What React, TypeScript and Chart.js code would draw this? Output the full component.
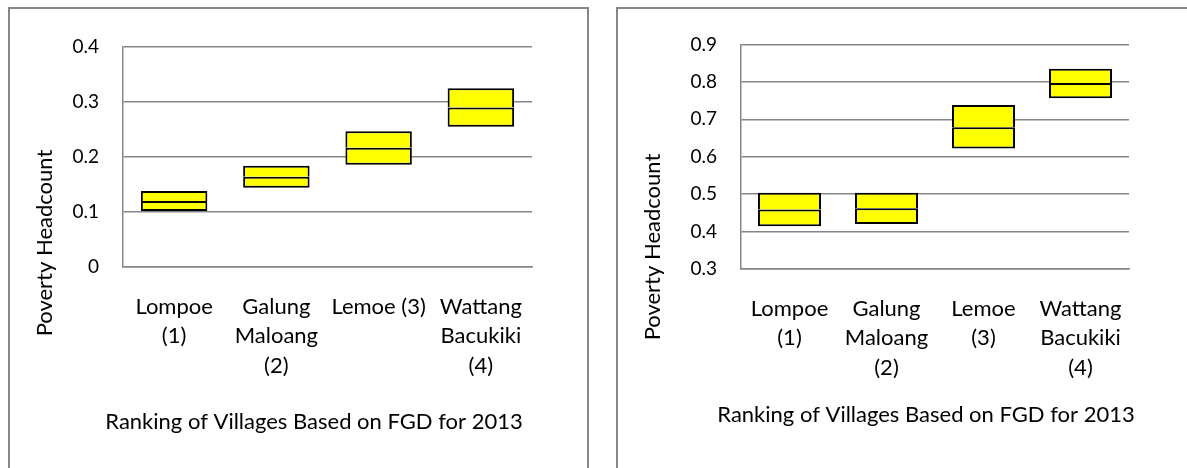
import React, { useEffect, useRef } from "react";
import { Chart, registerables } from "chart.js";

Chart.register(...registerables);

// ---- data ----
const leftCategories: string[][] = [["Lompoe", "(1)"], ["Galung", "Maloang", "(2)"], ["Lemoe (3)"], ["Wattang", "Bacukiki", "(4)"]];
const rightCategories: string[][] = [["Lompoe", "(1)"], ["Galung", "Maloang", "(2)"], ["Lemoe", "(3)"], ["Wattang", "Bacukiki", "(4)"]];

const leftLow = [0.102, 0.144, 0.186, 0.255];
const leftMid = [0.12, 0.164, 0.217, 0.29];
const leftHigh = [0.138, 0.184, 0.247, 0.325];

const rightLow = [0.414, 0.42, 0.622, 0.756];
const rightMid = [0.459, 0.462, 0.679, 0.797];
const rightHigh = [0.504, 0.504, 0.738, 0.835];

const leftAxisRange = [0, 0.4];
const rightAxisRange = [0.3, 0.9];
const tickStep = 0.1;

const yTitle = "Poverty Headcount";
const xTitle = "Ranking of Villages Based on FGD for 2013";

// ---- styles ----
const FONT = "Lato, 'Open Sans', sans-serif";
const LABEL_SIZE = 22;
const TICK_SIZE = 19;
const GRID = "#868686";
const BOX_FILL = "#FFFF00";

const axisTitlePlugin = {
  id: "axisTitles",
  afterDraw(chart: any, _args: any, opts: any) {
    const ctx = chart.ctx;
    ctx.save();
    ctx.fillStyle = "#000";
    ctx.font = `${opts.size}px ${FONT}`;
    ctx.textAlign = "center";
    ctx.textBaseline = "middle";
    ctx.fillText(opts.xText, opts.xPos[0], opts.xPos[1]);
    ctx.translate(opts.yPos[0], opts.yPos[1]);
    ctx.rotate(-Math.PI / 2);
    ctx.fillText(opts.yText, 0, 0);
    ctx.restore();
  },
};

type PanelProps = {
  categories: string[][];
  low: number[];
  mid: number[];
  high: number[];
  range: number[];
  canvasPos: number[]; // left, top, width, height (page)
  area: { left: number; right: number; top: number; bottom: number };
  yTitlePos: number[];
  xTitlePos: number[];
};

function ChartPanel(p: PanelProps) {
  const ref = useRef<HTMLCanvasElement | null>(null);
  useEffect(() => {
    if (!ref.current) return;
    const [, , w, h] = p.canvasPos;
    const common = {
      backgroundColor: BOX_FILL,
      borderColor: "#000000",
      borderSkipped: false,
      grouped: false,
      categoryPercentage: 0.65,
      barPercentage: 1,
      inflateAmount: 0,
    };
    const chart = new Chart(ref.current, {
      type: "bar",
      data: {
        labels: p.categories,
        datasets: [
          {
            ...common,
            data: p.low.map((v, i) => [v, p.mid[i]]),
            borderWidth: { top: 2, bottom: 2, left: 2, right: 2 },
          },
          {
            ...common,
            data: p.mid.map((v, i) => [v, p.high[i]]),
            borderWidth: { top: 2, bottom: 0, left: 2, right: 2 },
          },
        ] as any,
      },
      options: {
        responsive: false,
        animation: false,
        devicePixelRatio: 1,
        layout: { padding: { top: p.area.top, right: w - p.area.right, left: 0, bottom: 0 } },
        plugins: {
          legend: { display: false },
          tooltip: { enabled: false },
          axisTitles: {
            size: LABEL_SIZE,
            xText: xTitle,
            yText: yTitle,
            xPos: p.xTitlePos,
            yPos: p.yTitlePos,
          },
        } as any,
        scales: {
          x: {
            type: "category",
            grid: { display: false, drawTicks: false, tickLength: 0 },
            border: { display: true, color: GRID, width: 1.5 },
            ticks: {
              color: "#000",
              font: { family: FONT, size: LABEL_SIZE, lineHeight: 29.5 / LABEL_SIZE },
              padding: 25,
              maxRotation: 0,
              minRotation: 0,
              autoSkip: false,
            },
            afterFit: (s: any) => {
              s.height = h - p.area.bottom;
            },
          },
          y: {
            min: p.range[0],
            max: p.range[1],
            grid: { color: GRID, lineWidth: 1.5, drawTicks: false, tickLength: 0 },
            border: { display: true, color: GRID, width: 1.5 },
            ticks: {
              stepSize: tickStep,
              color: "#000",
              font: { family: FONT, size: TICK_SIZE },
              padding: 24,
            },
            afterFit: (s: any) => {
              s.width = p.area.left;
            },
          },
        } as any,
      },
      plugins: [axisTitlePlugin],
    });
    return () => chart.destroy();
  }, []);
  const [l, t, w, h] = p.canvasPos;
  return (
    <canvas
      ref={ref}
      width={w}
      height={h}
      style={{ position: "absolute", left: l, top: t, width: w, height: h }}
    />
  );
}

export default function App() {
  const boxStyle = (left: number, width: number): React.CSSProperties => ({
    position: "absolute",
    left,
    top: 7,
    width,
    height: 480,
    border: "2px solid #878787",
    boxSizing: "border-box",
  });
  return (
    <div
      style={{
        position: "absolute",
        left: 0,
        top: 0,
        width: 1187,
        height: 468,
        overflow: "hidden",
        background: "#ffffff",
      }}
    >
      <div style={boxStyle(8, 581)} />
      <div style={boxStyle(616, 600)} />
      <ChartPanel
        categories={leftCategories}
        low={leftLow}
        mid={leftMid}
        high={leftHigh}
        range={leftAxisRange}
        canvasPos={[10, 9, 577, 459]}
        area={{ left: 113, right: 522, top: 38, bottom: 258 }}
        yTitlePos={[35, 234]}
        xTitlePos={[304, 413]}
      />
      <ChartPanel
        categories={rightCategories}
        low={rightLow}
        mid={rightMid}
        high={rightHigh}
        range={rightAxisRange}
        canvasPos={[618, 9, 569, 459]}
        area={{ left: 123, right: 511, top: 34, bottom: 260 }}
        yTitlePos={[35, 238]}
        xTitlePos={[308, 406]}
      />
    </div>
  );
}
